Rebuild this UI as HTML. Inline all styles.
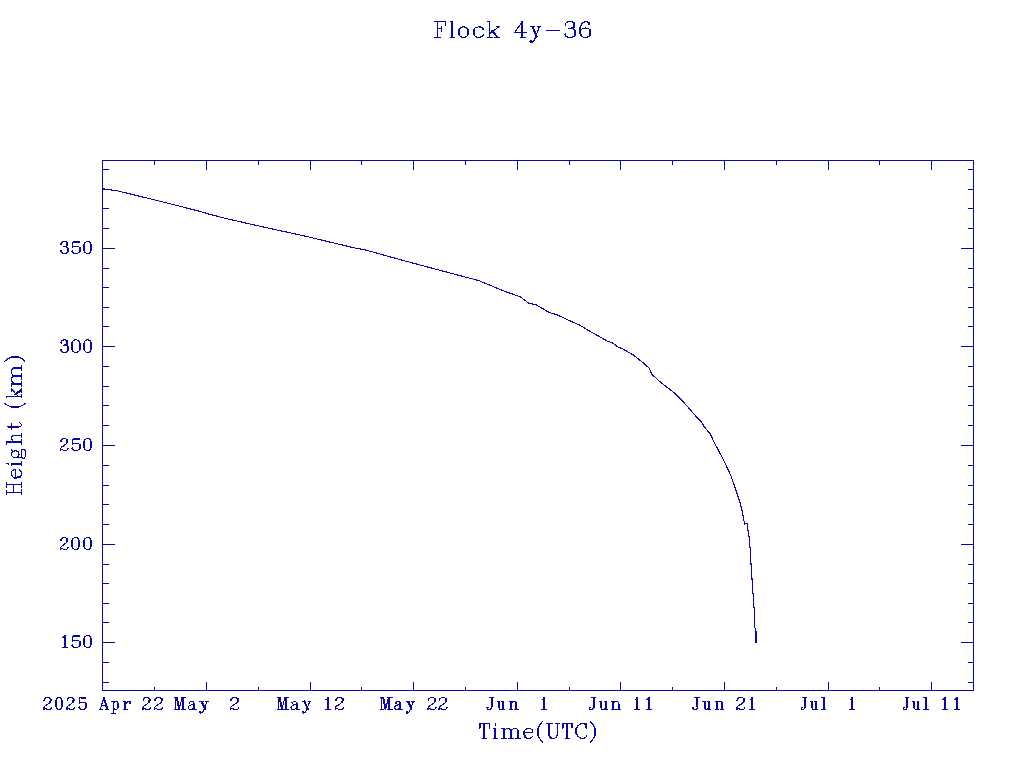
<!DOCTYPE html>
<html><head><meta charset="utf-8"><style>
html,body{margin:0;padding:0;background:#fff;width:1024px;height:768px;overflow:hidden}
svg{display:block}
.tx path{vector-effect:non-scaling-stroke}
.tx path.k{stroke-width:2.0px}
</style></head><body>
<svg width="1024" height="768" viewBox="0 0 1024 768">
<rect width="1024" height="768" fill="#fff"/>
<g shape-rendering="crispEdges" fill="none" stroke="#0808a8" stroke-width="1">
<path d="M102.5 160.5H973.5V690.5H102.5Z"/>
<path d="M103 682.5h6M973 682.5h-5M103 662.5h6M973 662.5h-5M103 642.5h12M973 642.5h-12M103 622.5h6M973 622.5h-5M103 603.5h6M973 603.5h-5M103 583.5h6M973 583.5h-5M103 564.5h6M973 564.5h-5M103 544.5h12M973 544.5h-12M103 524.5h6M973 524.5h-5M103 504.5h6M973 504.5h-5M103 485.5h6M973 485.5h-5M103 465.5h6M973 465.5h-5M103 445.5h12M973 445.5h-12M103 425.5h6M973 425.5h-5M103 405.5h6M973 405.5h-5M103 386.5h6M973 386.5h-5M103 366.5h6M973 366.5h-5M103 346.5h12M973 346.5h-12M103 326.5h6M973 326.5h-5M103 307.5h6M973 307.5h-5M103 287.5h6M973 287.5h-5M103 268.5h6M973 268.5h-5M103 248.5h12M973 248.5h-12M103 228.5h6M973 228.5h-5M103 208.5h6M973 208.5h-5M103 189.5h6M973 189.5h-5M103 169.5h6M973 169.5h-5M154.5 690v-3M154.5 161v4M206.5 690v-8M206.5 161v9M258.5 690v-3M258.5 161v4M310.5 690v-8M310.5 161v9M361.5 690v-3M361.5 161v4M413.5 690v-8M413.5 161v9M465.5 690v-3M465.5 161v4M517.5 690v-8M517.5 161v9M569.5 690v-3M569.5 161v4M620.5 690v-8M620.5 161v9M672.5 690v-3M672.5 161v4M724.5 690v-8M724.5 161v9M776.5 690v-3M776.5 161v4M828.5 690v-8M828.5 161v9M879.5 690v-3M879.5 161v4M931.5 690v-8M931.5 161v9"/>
</g>
<g fill="none" stroke="#0808a8" shape-rendering="crispEdges"><path d="M102 188.7 L116.25 190.6 L150 198.75 L180 206.25 L205 212.75 L207.5 213.75 L228 219 L265.5 227.5 L303 235.6 L356 248.3 L363.5 249.4 L406 261.25 L443.5 271.25 L470 278.3 L478.3 280.4 L487.5 284.2 L503.3 290.8 L520 296.7 L529.2 303.5 L535.8 304.6 L549.2 312.5 L556.7 314.6 L570 320.8 L580 325.3 L588.3 330.4 L596.7 335 L607.5 341.25 L612.5 342.9 L617.5 346.7 L623.3 349.2 L633.3 355 L643.3 362.9 L649.2 368.3 L651.7 374.2 L660 381.7 L674.2 392.9 L685 403.75 L693.3 413.3 L701.7 422.5 L704.3 426.8 L710.2 433.9 L715.2 444.3 L721 455.2 L726 465.2 L731 476 L737 493.3 L740.3 503.3 L742.8 514.2 L744.6 524 L746.5 523.5 L747.5 524 L747.8 529 L749.2 537.5 L750.2 550 L751.25 567.7 L752.3 583.3 L753.3 597.9 L754.4 612.5 L754.6 626 L755.6 631 L756 642" fill="none" stroke-width="1.1"/><rect x="755" y="631" width="2" height="12" fill="#0808a8" stroke="none"/></g>
<g class="tx" shape-rendering="crispEdges" fill="none" stroke="#0808a8" stroke-width="1.15" stroke-linecap="round" stroke-linejoin="round">
<path transform="matrix(0.7233 0 0 0.7548 434.57 21.57)" d="M3.5 0V21 M0 0H15V5.5 M0 21H7.5 M3.5 9.5H10 M10 6V13"/><path transform="matrix(0.6417 0 0 0.7548 450.57 21.57)" d="M0 0H3 M0 21H6"/><path class="k" transform="matrix(0.6417 0 0 0.7548 450.57 21.57)" d="M3 0V21"/><path transform="matrix(0.7577 0 0 0.7548 458.57 21.57)" d="M6.5 7C2.9 7 0 10.1 0 14C0 17.9 2.9 21 6.5 21C10.1 21 13 17.9 13 14C13 10.1 10.1 7 6.5 7Z"/><path class="k" transform="matrix(0.7577 0 0 0.7548 458.57 21.57)" d="M0.6 11.5C0.4 13.5 0.5 15.5 1.1 17.5 M12.4 16.5C12.6 14.5 12.5 12.5 11.9 10.5"/><path transform="matrix(0.7577 0 0 0.7548 473.57 21.57)" d="M11.3 10.6C12.3 10.6 13 10.2 13 9.6C12.2 7.9 10 7 7 7C2.9 7 0 10.1 0 14C0 17.9 2.9 21 7 21C9.6 21 11.6 19.8 13 17.6 M11.3 9.2V10.6"/><path class="k" transform="matrix(0.7577 0 0 0.7548 473.57 21.57)" d="M0.6 11.5C0.4 13.5 0.5 15.5 1.1 17.5"/><path transform="matrix(0.7406 0 0 0.7548 487.57 21.57)" d="M2.6 0V21 M0 0H3 M0 21H6.5 M15 7L2.6 16.5 M11.5 7H16 M10 21H16"/><path class="k" transform="matrix(0.7406 0 0 0.7548 487.57 21.57)" d="M6 12L13.5 21"/><path transform="matrix(0.7406 0 0 0.7548 514.58 21.57)" d="M10.5 0L0 14.5H16 M8.5 21H14.5"/><path class="k" transform="matrix(0.7406 0 0 0.7548 514.58 21.57)" d="M10.5 0V21"/><path transform="matrix(0.7344 0 0 0.7548 529.18 21.57)" d="M1.5 7H7 M11.5 7H16 M13.8 7L7.5 23.5C6.5 26 5 27.5 3 27.5C1.8 27.5 1 26.8 1 26C1 25.4 1.5 25 2 25C2.5 25 3 25.4 3 26"/><path class="k" transform="matrix(0.7344 0 0 0.7548 529.18 21.57)" d="M4.5 7L10.5 20"/><path transform="matrix(0.7457 0 0 0.7548 546.38 21.57)" d="M0 11.5H17.5"/><path transform="matrix(0.7893 0 0 0.7548 564.38 21.57)" d="M1 4.5C1.5 1.5 4 0 7.5 0C11 0 13 1.8 13 4.5C13 7 11 8.8 7 8.8H5.5 M7 8.8C11.5 8.8 14 11.5 14 15C14 18.8 11.5 21 7 21C3.5 21 1 19.5 0.5 17"/><path class="k" transform="matrix(0.7893 0 0 0.7548 564.38 21.57)" d="M1.5 4.5L1.6 4.6 M13.4 12.5C13.7 13.5 13.7 16.5 13.4 17.5 M1.3 16.6L1.4 16.7 M12.3 2C12.6 3 12.6 5.5 12.2 6.8"/><path transform="matrix(0.7167 0 0 0.7548 579.88 21.57)" d="M13.8 3.2C12.8 1 10.8 0 8.5 0C4 0 0 4.5 0 12C0 18 3 21 7.5 21C12 21 15 18.5 15 14.5C15 10.5 12 8.5 8 8.5C4.5 8.5 1.5 10.5 0.5 13"/><path class="k" transform="matrix(0.7167 0 0 0.7548 579.88 21.57)" d="M13 3.4L13.1 3.5 M0.6 7.5C0.3 10.5 0.3 15.5 1.3 18.5 M14.4 11.5C14.7 13 14.7 16 14.4 17.5"/>
<path transform="matrix(0.6888 0 0 0.7071 479.57 723.58)" d="M0 0H14.3 M0 0V6.3 M14.3 0V6.3 M4.5 21H9.8"/><path class="k" transform="matrix(0.6888 0 0 0.7071 479.57 723.58)" d="M7.1 0V21 M0.5 0V4.5"/><path transform="matrix(0.5923 0 0 0.7071 493.57 723.58)" d="M0 7H3.2 M0 21H6.5 M2.6 3.4L3.6 0.4"/><path class="k" transform="matrix(0.5923 0 0 0.7071 493.57 723.58)" d="M3.2 7V21"/><path transform="matrix(0.7190 0 0 0.7071 501.77 723.58)" d="M0 7H3.4 M0 21H6.3 M3.4 10.5C4.4 8.3 6 7 8.2 7C10.5 7 12.8 8.2 12.8 10.5 M12.8 10.5C13.8 8.3 15.5 7 17.7 7C20 7 22.8 8.2 22.8 10.5 M9.2 21H16.2 M19.3 21H25.8"/><path class="k" transform="matrix(0.7190 0 0 0.7071 501.77 723.58)" d="M3.4 7V21 M12.8 10.5V21 M22.8 10.5V21"/><path transform="matrix(0.6756 0 0 0.7071 523.98 723.58)" d="M0.6 12.5H13.1C13.1 10.5 12.6 9 11.6 8.1C10.6 7.3 9 7 7 7C3 7 0 10 0 14C0 18 3 21 7 21C9.5 21 11.5 20 13.1 18"/><path class="k" transform="matrix(0.6756 0 0 0.7071 523.98 723.58)" d="M0.6 11.3C0.4 14.5 0.7 17.5 2.1 19.5"/><path transform="matrix(0.6169 0 0 0.7071 537.58 723.58)" d="M7.7 -2.6C2.5 2 0 7 0 11.75C0 16.5 2.5 21.5 7.7 26.1"/><path class="k" transform="matrix(0.6169 0 0 0.7071 537.58 723.58)" d="M0.6 7C0.3 10 0.3 13.5 0.6 16.5"/><path transform="matrix(0.6989 0 0 0.7071 546.88 723.58)" d="M0 0H7.5 M12.3 0H17.6 M2.9 14C2.9 18.5 4.8 21 9 21C12.8 21 15 18.5 15 14V0"/><path class="k" transform="matrix(0.6989 0 0 0.7071 546.88 723.58)" d="M2.9 0V14C2.9 17 4.3 19.5 6.5 20.5"/><path transform="matrix(0.6608 0 0 0.7071 562.58 723.58)" d="M0 0H14.3 M0 0V6.3 M14.3 0V6.3 M4.5 21H9.8"/><path class="k" transform="matrix(0.6608 0 0 0.7071 562.58 723.58)" d="M7.1 0V21 M0.5 0V4.5"/><path transform="matrix(0.6903 0 0 0.7071 575.98 723.58)" d="M15.5 0V6.5 M15.5 3.2C14.5 1 12.5 0 10 0C4.5 0 0 4.5 0 10.5C0 16.5 4.5 21 10 21C12.5 21 14.5 20 15.5 17.5"/><path class="k" transform="matrix(0.6903 0 0 0.7071 575.98 723.58)" d="M0.7 6C0.4 9 0.4 12 0.7 15 M15 0.5V5"/><path transform="matrix(0.6299 0 0 0.7071 590.58 723.58)" d="M0 -2.6C5.2 2 7.7 7 7.7 11.75C7.7 16.5 5.2 21.5 0 26.1"/><path class="k" transform="matrix(0.6299 0 0 0.7071 590.58 723.58)" d="M7.1 7C7.4 10 7.4 13.5 7.1 16.5"/>
<g transform="translate(0 768) rotate(-90)"><path transform="matrix(0.6912 0 0 0.7024 273.47 6.67)" d="M3 0V21 M14 0V21 M0 0H6.5 M10.5 0H17 M0 21H6.5 M10.5 21H17 M3 10H14"/><path transform="matrix(0.6374 0 0 0.7024 290.07 6.67)" d="M0.6 12.5H13.1C13.1 10.5 12.6 9 11.6 8.1C10.6 7.3 9 7 7 7C3 7 0 10 0 14C0 18 3 21 7 21C9.5 21 11.5 20 13.1 18"/><path class="k" transform="matrix(0.6374 0 0 0.7024 290.07 6.67)" d="M0.6 11.3C0.4 14.5 0.7 17.5 2.1 19.5"/><path transform="matrix(0.6077 0 0 0.7024 302.27 6.67)" d="M0 7H3.2 M0 21H6.5 M2.6 3.4L3.6 0.4"/><path class="k" transform="matrix(0.6077 0 0 0.7024 302.27 6.67)" d="M3.2 7V21"/><path transform="matrix(0.6754 0 0 0.7024 309.68 6.67)" d="M6 7C3 7 1 9 1 12.3C1 15.6 3 17.6 6 17.6C9 17.6 11 15.6 11 12.3C11 9 9 7 6 7Z M10 8.5C10.8 7.5 12 7 13.4 7.2 M2.5 16.5C1 17.5 0.5 18.5 0.5 19.3C0.5 20.2 1.5 20.7 3 20.7H10C12.5 20.7 13.4 21.9 13.4 23.7C13.4 25.7 11 26.8 7 26.8C3 26.8 0 25.7 0 23.7C0 22.2 1.5 21.2 3 20.7"/><path transform="matrix(0.6871 0 0 0.7024 323.88 6.67)" d="M0 0H3.5 M3.5 10.5C4.5 8.5 7 7 9 7C11.5 7 12.5 8.5 12.5 11V21 M0 21H7 M9.5 21H15.5"/><path class="k" transform="matrix(0.6871 0 0 0.7024 323.88 6.67)" d="M3.5 0V21"/><path transform="matrix(0.6520 0 0 0.7024 338.77 6.67)" d="M4 17.5C4 20 4.8 21 6.5 21C8 21 9.2 20 10.2 18.5 M0 7H9"/><path class="k" transform="matrix(0.6520 0 0 0.7024 338.77 6.67)" d="M4 2V17.5"/><path transform="matrix(0.5000 0 0 0.7024 360.57 6.67)" d="M7.7 -2.6C2.5 2 0 7 0 11.75C0 16.5 2.5 21.5 7.7 26.1"/><path class="k" transform="matrix(0.5000 0 0 0.7024 360.57 6.67)" d="M0.6 7C0.3 10 0.3 13.5 0.6 16.5"/><path transform="matrix(0.5906 0 0 0.7024 370.07 6.67)" d="M2.6 0V21 M0 0H3 M0 21H6.5 M15 7L2.6 16.5 M11.5 7H16 M10 21H16"/><path class="k" transform="matrix(0.5906 0 0 0.7024 370.07 6.67)" d="M6 12L13.5 21"/><path transform="matrix(0.7965 0 0 0.7024 381.68 6.67)" d="M0 7H3.4 M0 21H6.3 M3.4 10.5C4.4 8.3 6 7 8.2 7C10.5 7 12.8 8.2 12.8 10.5 M12.8 10.5C13.8 8.3 15.5 7 17.7 7C20 7 22.8 8.2 22.8 10.5 M9.2 21H16.2 M19.3 21H25.8"/><path class="k" transform="matrix(0.7965 0 0 0.7024 381.68 6.67)" d="M3.4 7V21 M12.8 10.5V21 M22.8 10.5V21"/><path transform="matrix(0.6039 0 0 0.7024 406.77 6.67)" d="M0 -2.6C5.2 2 7.7 7 7.7 11.75C7.7 16.5 5.2 21.5 0 26.1"/><path class="k" transform="matrix(0.6039 0 0 0.7024 406.77 6.67)" d="M7.1 7C7.4 10 7.4 13.5 7.1 16.5"/></g>
<path transform="matrix(0.5464 0 0 0.5643 60.38 241.57)" d="M1 4.5C1.5 1.5 4 0 7.5 0C11 0 13 1.8 13 4.5C13 7 11 8.8 7 8.8H5.5 M7 8.8C11.5 8.8 14 11.5 14 15C14 18.8 11.5 21 7 21C3.5 21 1 19.5 0.5 17"/><path class="k" transform="matrix(0.5464 0 0 0.5643 60.38 241.57)" d="M1.5 4.5L1.6 4.6 M13.4 12.5C13.7 13.5 13.7 16.5 13.4 17.5 M1.3 16.6L1.4 16.7 M12.3 2C12.6 3 12.6 5.5 12.2 6.8"/><path transform="matrix(0.6179 0 0 0.5643 71.58 241.57)" d="M2.5 0L1.5 10C3 8.5 4.8 8 7 8C11 8 14 10.5 14 14.5C14 18.5 11 21 7 21C3.5 21 1 19.5 0.5 17 M2.5 0H12.5 M1 16.6C1 15.9 2 15.9 2 16.6"/><path class="k" transform="matrix(0.6179 0 0 0.5643 71.58 241.57)" d="M13.4 11C13.7 13 13.7 16 13.4 17.5 M6 0.6H12.5"/><path transform="matrix(0.5464 0 0 0.5643 83.78 241.57)" d="M7 0C3 0 0 4 0 10.5C0 17 3 21 7 21C11 21 14 17 14 10.5C14 4 11 0 7 0Z"/><path class="k" transform="matrix(0.5464 0 0 0.5643 83.78 241.57)" d="M0.6 6C0.3 9 0.3 13 0.6 15.5 M13.4 6C13.7 9 13.7 13 13.4 15.5"/>
<path transform="matrix(0.5464 0 0 0.6024 60.58 339.77)" d="M1 4.5C1.5 1.5 4 0 7.5 0C11 0 13 1.8 13 4.5C13 7 11 8.8 7 8.8H5.5 M7 8.8C11.5 8.8 14 11.5 14 15C14 18.8 11.5 21 7 21C3.5 21 1 19.5 0.5 17"/><path class="k" transform="matrix(0.5464 0 0 0.6024 60.58 339.77)" d="M1.5 4.5L1.6 4.6 M13.4 12.5C13.7 13.5 13.7 16.5 13.4 17.5 M1.3 16.6L1.4 16.7 M12.3 2C12.6 3 12.6 5.5 12.2 6.8"/><path transform="matrix(0.6107 0 0 0.6024 71.58 339.77)" d="M7 0C3 0 0 4 0 10.5C0 17 3 21 7 21C11 21 14 17 14 10.5C14 4 11 0 7 0Z"/><path class="k" transform="matrix(0.6107 0 0 0.6024 71.58 339.77)" d="M0.6 6C0.3 9 0.3 13 0.6 15.5 M13.4 6C13.7 9 13.7 13 13.4 15.5"/><path transform="matrix(0.5607 0 0 0.6024 83.78 339.77)" d="M7 0C3 0 0 4 0 10.5C0 17 3 21 7 21C11 21 14 17 14 10.5C14 4 11 0 7 0Z"/><path class="k" transform="matrix(0.5607 0 0 0.6024 83.78 339.77)" d="M0.6 6C0.3 9 0.3 13 0.6 15.5 M13.4 6C13.7 9 13.7 13 13.4 15.5"/>
<path transform="matrix(0.5464 0 0 0.5643 60.38 438.57)" d="M0.8 5.2C0.8 4.3 1.3 3.9 2 4.3 M0.8 4.8C1.3 1.8 4 0 7 0C10.5 0 13 2 13 5C13 7.8 11 9.6 7.5 11.8L2.5 15C1 16.2 0.2 18 0 21C1.5 19.8 3 19.6 5 20.3C8 21.3 11 21.3 13 20L14 17.5"/><path class="k" transform="matrix(0.5464 0 0 0.5643 60.38 438.57)" d="M12.4 2C12.7 3 12.7 5.5 12.1 7"/><path transform="matrix(0.6179 0 0 0.5643 71.58 438.57)" d="M2.5 0L1.5 10C3 8.5 4.8 8 7 8C11 8 14 10.5 14 14.5C14 18.5 11 21 7 21C3.5 21 1 19.5 0.5 17 M2.5 0H12.5 M1 16.6C1 15.9 2 15.9 2 16.6"/><path class="k" transform="matrix(0.6179 0 0 0.5643 71.58 438.57)" d="M13.4 11C13.7 13 13.7 16 13.4 17.5 M6 0.6H12.5"/><path transform="matrix(0.5464 0 0 0.5643 83.78 438.57)" d="M7 0C3 0 0 4 0 10.5C0 17 3 21 7 21C11 21 14 17 14 10.5C14 4 11 0 7 0Z"/><path class="k" transform="matrix(0.5464 0 0 0.5643 83.78 438.57)" d="M0.6 6C0.3 9 0.3 13 0.6 15.5 M13.4 6C13.7 9 13.7 13 13.4 15.5"/>
<path transform="matrix(0.5464 0 0 0.5643 60.38 537.58)" d="M0.8 5.2C0.8 4.3 1.3 3.9 2 4.3 M0.8 4.8C1.3 1.8 4 0 7 0C10.5 0 13 2 13 5C13 7.8 11 9.6 7.5 11.8L2.5 15C1 16.2 0.2 18 0 21C1.5 19.8 3 19.6 5 20.3C8 21.3 11 21.3 13 20L14 17.5"/><path class="k" transform="matrix(0.5464 0 0 0.5643 60.38 537.58)" d="M12.4 2C12.7 3 12.7 5.5 12.1 7"/><path transform="matrix(0.5464 0 0 0.5643 71.78 537.58)" d="M7 0C3 0 0 4 0 10.5C0 17 3 21 7 21C11 21 14 17 14 10.5C14 4 11 0 7 0Z"/><path class="k" transform="matrix(0.5464 0 0 0.5643 71.78 537.58)" d="M0.6 6C0.3 9 0.3 13 0.6 15.5 M13.4 6C13.7 9 13.7 13 13.4 15.5"/><path transform="matrix(0.5464 0 0 0.5643 83.78 537.58)" d="M7 0C3 0 0 4 0 10.5C0 17 3 21 7 21C11 21 14 17 14 10.5C14 4 11 0 7 0Z"/><path class="k" transform="matrix(0.5464 0 0 0.5643 83.78 537.58)" d="M0.6 6C0.3 9 0.3 13 0.6 15.5 M13.4 6C13.7 9 13.7 13 13.4 15.5"/>
<path transform="matrix(0.4895 0 0 0.5643 62.58 635.58)" d="M0.8 3.2C2.6 2.8 4.4 1.6 5 0 M0 21H9.5"/><path class="k" transform="matrix(0.4895 0 0 0.5643 62.58 635.58)" d="M5 0V21"/><path transform="matrix(0.6179 0 0 0.5643 71.58 635.58)" d="M2.5 0L1.5 10C3 8.5 4.8 8 7 8C11 8 14 10.5 14 14.5C14 18.5 11 21 7 21C3.5 21 1 19.5 0.5 17 M2.5 0H12.5 M1 16.6C1 15.9 2 15.9 2 16.6"/><path class="k" transform="matrix(0.6179 0 0 0.5643 71.58 635.58)" d="M13.4 11C13.7 13 13.7 16 13.4 17.5 M6 0.6H12.5"/><path transform="matrix(0.5464 0 0 0.5643 83.78 635.58)" d="M7 0C3 0 0 4 0 10.5C0 17 3 21 7 21C11 21 14 17 14 10.5C14 4 11 0 7 0Z"/><path class="k" transform="matrix(0.5464 0 0 0.5643 83.78 635.58)" d="M0.6 6C0.3 9 0.3 13 0.6 15.5 M13.4 6C13.7 9 13.7 13 13.4 15.5"/>
<path transform="matrix(0.5607 0 0 0.5643 43.58 697.58)" d="M0.8 5.2C0.8 4.3 1.3 3.9 2 4.3 M0.8 4.8C1.3 1.8 4 0 7 0C10.5 0 13 2 13 5C13 7.8 11 9.6 7.5 11.8L2.5 15C1 16.2 0.2 18 0 21C1.5 19.8 3 19.6 5 20.3C8 21.3 11 21.3 13 20L14 17.5"/><path class="k" transform="matrix(0.5607 0 0 0.5643 43.58 697.58)" d="M12.4 2C12.7 3 12.7 5.5 12.1 7"/><path transform="matrix(0.4750 0 0 0.5643 55.48 697.58)" d="M7 0C3 0 0 4 0 10.5C0 17 3 21 7 21C11 21 14 17 14 10.5C14 4 11 0 7 0Z"/><path class="k" transform="matrix(0.4750 0 0 0.5643 55.48 697.58)" d="M0.6 6C0.3 9 0.3 13 0.6 15.5 M13.4 6C13.7 9 13.7 13 13.4 15.5"/><path transform="matrix(0.5464 0 0 0.5643 66.67 697.58)" d="M0.8 5.2C0.8 4.3 1.3 3.9 2 4.3 M0.8 4.8C1.3 1.8 4 0 7 0C10.5 0 13 2 13 5C13 7.8 11 9.6 7.5 11.8L2.5 15C1 16.2 0.2 18 0 21C1.5 19.8 3 19.6 5 20.3C8 21.3 11 21.3 13 20L14 17.5"/><path class="k" transform="matrix(0.5464 0 0 0.5643 66.67 697.58)" d="M12.4 2C12.7 3 12.7 5.5 12.1 7"/><path transform="matrix(0.5607 0 0 0.5643 78.58 697.58)" d="M2.5 0L1.5 10C3 8.5 4.8 8 7 8C11 8 14 10.5 14 14.5C14 18.5 11 21 7 21C3.5 21 1 19.5 0.5 17 M2.5 0H12.5 M1 16.6C1 15.9 2 15.9 2 16.6"/><path class="k" transform="matrix(0.5607 0 0 0.5643 78.58 697.58)" d="M13.4 11C13.7 13 13.7 16 13.4 17.5 M6 0.6H12.5"/><path transform="matrix(0.5485 0 0 0.5643 99.38 697.58)" d="M8.2 0.6L1.5 21 M4 14H12.5 M0 21H5 M11.5 21H16.5"/><path class="k" transform="matrix(0.5485 0 0 0.5643 99.38 697.58)" d="M8.5 0.8L14.5 21"/><path transform="matrix(0.5346 0 0 0.5643 111.67 697.58)" d="M3 7V28.5 M0 7H3 M0 28.5H7 M3 10C4 8 5.5 7 7.5 7C10.5 7 13 9.5 13 14C13 18.5 10.5 21 7.5 21C5.5 21 4 20 3 18"/><path class="k" transform="matrix(0.5346 0 0 0.5643 111.67 697.58)" d="M12.4 11C12.6 13 12.6 15.5 12.4 17"/><path transform="matrix(0.5792 0 0 0.5643 123.67 697.58)" d="M0 7H3 M0 21H6.5 M3 12C4 9 6 7 8.5 7C10.5 7 12 7.8 12 9C12 9.8 11.5 10.3 11 10.3C10.3 10.3 10 9.8 10 9.3"/><path class="k" transform="matrix(0.5792 0 0 0.5643 123.67 697.58)" d="M3 7V21"/><path transform="matrix(0.5464 0 0 0.5643 142.67 697.58)" d="M0.8 5.2C0.8 4.3 1.3 3.9 2 4.3 M0.8 4.8C1.3 1.8 4 0 7 0C10.5 0 13 2 13 5C13 7.8 11 9.6 7.5 11.8L2.5 15C1 16.2 0.2 18 0 21C1.5 19.8 3 19.6 5 20.3C8 21.3 11 21.3 13 20L14 17.5"/><path class="k" transform="matrix(0.5464 0 0 0.5643 142.67 697.58)" d="M12.4 2C12.7 3 12.7 5.5 12.1 7"/><path transform="matrix(0.5964 0 0 0.5643 154.27 697.58)" d="M0.8 5.2C0.8 4.3 1.3 3.9 2 4.3 M0.8 4.8C1.3 1.8 4 0 7 0C10.5 0 13 2 13 5C13 7.8 11 9.6 7.5 11.8L2.5 15C1 16.2 0.2 18 0 21C1.5 19.8 3 19.6 5 20.3C8 21.3 11 21.3 13 20L14 17.5"/><path class="k" transform="matrix(0.5964 0 0 0.5643 154.27 697.58)" d="M12.4 2C12.7 3 12.7 5.5 12.1 7"/><path transform="matrix(0.5625 0 0 0.5643 174.38 697.58)" d="M2 0V21 M0 0H4.5 M13.6 0.5L8.4 21 M12.5 0H20 M0 21H5 M12 21H20"/><path class="k" transform="matrix(0.5625 0 0 0.5643 174.38 697.58)" d="M4.3 0.3L8.4 20.5 M15.3 0V21"/><path transform="matrix(0.5433 0 0 0.5643 188.18 697.58)" d="M2 9.3C3 7.8 4.6 7 7 7C9.6 7 10.5 8.5 10.5 11 M10.5 18.5C10.5 20.3 11.8 21 13 21H15 M10.5 11.6C9 12.6 6 12.6 3.6 13.6C1 14.6 0 15.9 0 17.6C0 19.8 1.8 21 4.5 21C7 21 9.5 19.8 10.5 17.6"/><path class="k" transform="matrix(0.5433 0 0 0.5643 188.18 697.58)" d="M10.5 11V20 M2.4 9.4L2.5 9.5"/><path transform="matrix(0.5594 0 0 0.5643 199.18 697.58)" d="M1.5 7H7 M11.5 7H16 M13.8 7L7.5 23.5C6.5 26 5 27.5 3 27.5C1.8 27.5 1 26.8 1 26C1 25.4 1.5 25 2 25C2.5 25 3 25.4 3 26"/><path class="k" transform="matrix(0.5594 0 0 0.5643 199.18 697.58)" d="M4.5 7L10.5 20"/><path transform="matrix(0.6107 0 0 0.5643 230.27 697.58)" d="M0.8 5.2C0.8 4.3 1.3 3.9 2 4.3 M0.8 4.8C1.3 1.8 4 0 7 0C10.5 0 13 2 13 5C13 7.8 11 9.6 7.5 11.8L2.5 15C1 16.2 0.2 18 0 21C1.5 19.8 3 19.6 5 20.3C8 21.3 11 21.3 13 20L14 17.5"/><path class="k" transform="matrix(0.6107 0 0 0.5643 230.27 697.58)" d="M12.4 2C12.7 3 12.7 5.5 12.1 7"/><path transform="matrix(0.5625 0 0 0.5643 277.18 697.58)" d="M2 0V21 M0 0H4.5 M13.6 0.5L8.4 21 M12.5 0H20 M0 21H5 M12 21H20"/><path class="k" transform="matrix(0.5625 0 0 0.5643 277.18 697.58)" d="M4.3 0.3L8.4 20.5 M15.3 0V21"/><path transform="matrix(0.5433 0 0 0.5643 290.98 697.58)" d="M2 9.3C3 7.8 4.6 7 7 7C9.6 7 10.5 8.5 10.5 11 M10.5 18.5C10.5 20.3 11.8 21 13 21H15 M10.5 11.6C9 12.6 6 12.6 3.6 13.6C1 14.6 0 15.9 0 17.6C0 19.8 1.8 21 4.5 21C7 21 9.5 19.8 10.5 17.6"/><path class="k" transform="matrix(0.5433 0 0 0.5643 290.98 697.58)" d="M10.5 11V20 M2.4 9.4L2.5 9.5"/><path transform="matrix(0.5594 0 0 0.5643 301.98 697.58)" d="M1.5 7H7 M11.5 7H16 M13.8 7L7.5 23.5C6.5 26 5 27.5 3 27.5C1.8 27.5 1 26.8 1 26C1 25.4 1.5 25 2 25C2.5 25 3 25.4 3 26"/><path class="k" transform="matrix(0.5594 0 0 0.5643 301.98 697.58)" d="M4.5 7L10.5 20"/><path transform="matrix(0.5526 0 0 0.5643 325.57 697.58)" d="M0.8 3.2C2.6 2.8 4.4 1.6 5 0 M0 21H9.5"/><path class="k" transform="matrix(0.5526 0 0 0.5643 325.57 697.58)" d="M5 0V21"/><path transform="matrix(0.6036 0 0 0.5643 335.07 697.58)" d="M0.8 5.2C0.8 4.3 1.3 3.9 2 4.3 M0.8 4.8C1.3 1.8 4 0 7 0C10.5 0 13 2 13 5C13 7.8 11 9.6 7.5 11.8L2.5 15C1 16.2 0.2 18 0 21C1.5 19.8 3 19.6 5 20.3C8 21.3 11 21.3 13 20L14 17.5"/><path class="k" transform="matrix(0.6036 0 0 0.5643 335.07 697.58)" d="M12.4 2C12.7 3 12.7 5.5 12.1 7"/><path transform="matrix(0.5625 0 0 0.5643 380.77 697.58)" d="M2 0V21 M0 0H4.5 M13.6 0.5L8.4 21 M12.5 0H20 M0 21H5 M12 21H20"/><path class="k" transform="matrix(0.5625 0 0 0.5643 380.77 697.58)" d="M4.3 0.3L8.4 20.5 M15.3 0V21"/><path transform="matrix(0.5433 0 0 0.5643 394.57 697.58)" d="M2 9.3C3 7.8 4.6 7 7 7C9.6 7 10.5 8.5 10.5 11 M10.5 18.5C10.5 20.3 11.8 21 13 21H15 M10.5 11.6C9 12.6 6 12.6 3.6 13.6C1 14.6 0 15.9 0 17.6C0 19.8 1.8 21 4.5 21C7 21 9.5 19.8 10.5 17.6"/><path class="k" transform="matrix(0.5433 0 0 0.5643 394.57 697.58)" d="M10.5 11V20 M2.4 9.4L2.5 9.5"/><path transform="matrix(0.5594 0 0 0.5643 405.57 697.58)" d="M1.5 7H7 M11.5 7H16 M13.8 7L7.5 23.5C6.5 26 5 27.5 3 27.5C1.8 27.5 1 26.8 1 26C1 25.4 1.5 25 2 25C2.5 25 3 25.4 3 26"/><path class="k" transform="matrix(0.5594 0 0 0.5643 405.57 697.58)" d="M4.5 7L10.5 20"/><path transform="matrix(0.6036 0 0 0.5643 427.67 697.58)" d="M0.8 5.2C0.8 4.3 1.3 3.9 2 4.3 M0.8 4.8C1.3 1.8 4 0 7 0C10.5 0 13 2 13 5C13 7.8 11 9.6 7.5 11.8L2.5 15C1 16.2 0.2 18 0 21C1.5 19.8 3 19.6 5 20.3C8 21.3 11 21.3 13 20L14 17.5"/><path class="k" transform="matrix(0.6036 0 0 0.5643 427.67 697.58)" d="M12.4 2C12.7 3 12.7 5.5 12.1 7"/><path transform="matrix(0.6036 0 0 0.5643 438.67 697.58)" d="M0.8 5.2C0.8 4.3 1.3 3.9 2 4.3 M0.8 4.8C1.3 1.8 4 0 7 0C10.5 0 13 2 13 5C13 7.8 11 9.6 7.5 11.8L2.5 15C1 16.2 0.2 18 0 21C1.5 19.8 3 19.6 5 20.3C8 21.3 11 21.3 13 20L14 17.5"/><path class="k" transform="matrix(0.6036 0 0 0.5643 438.67 697.58)" d="M12.4 2C12.7 3 12.7 5.5 12.1 7"/><path transform="matrix(0.5189 0 0 0.5643 486.37 697.58)" d="M5.5 0H13.2 M10 16.5C10 19.5 8 21 5 21C2.5 21 1 19.8 1 18.5C1 17.6 1.6 17 2.3 17C3 17 3.5 17.5 3.5 18.2"/><path class="k" transform="matrix(0.5189 0 0 0.5643 486.37 697.58)" d="M10 0V16.5"/><path transform="matrix(0.5345 0 0 0.5643 497.17 697.58)" d="M0 7H3.5 M3.5 17C3.5 19.5 4.3 21 6.5 21C8.5 21 10 20 11.3 18 M9 7H11.5 M11.3 21H14.5"/><path class="k" transform="matrix(0.5345 0 0 0.5643 497.17 697.58)" d="M3.5 7V17 M11.5 7V21"/><path transform="matrix(0.5510 0 0 0.5643 509.37 697.58)" d="M0 7H3 M3 10.5C4 8.5 6.5 7 8.5 7C11 7 12.7 8.5 12.7 11 M0 21H6.5 M9.2 21H15.7"/><path class="k" transform="matrix(0.5510 0 0 0.5643 509.37 697.58)" d="M3 7V21 M12.7 11V21"/><path transform="matrix(0.4579 0 0 0.5643 541.88 697.58)" d="M0.8 3.2C2.6 2.8 4.4 1.6 5 0 M0 21H9.5"/><path class="k" transform="matrix(0.4579 0 0 0.5643 541.88 697.58)" d="M5 0V21"/><path transform="matrix(0.5189 0 0 0.5643 588.58 697.58)" d="M5.5 0H13.2 M10 16.5C10 19.5 8 21 5 21C2.5 21 1 19.8 1 18.5C1 17.6 1.6 17 2.3 17C3 17 3.5 17.5 3.5 18.2"/><path class="k" transform="matrix(0.5189 0 0 0.5643 588.58 697.58)" d="M10 0V16.5"/><path transform="matrix(0.5345 0 0 0.5643 599.38 697.58)" d="M0 7H3.5 M3.5 17C3.5 19.5 4.3 21 6.5 21C8.5 21 10 20 11.3 18 M9 7H11.5 M11.3 21H14.5"/><path class="k" transform="matrix(0.5345 0 0 0.5643 599.38 697.58)" d="M3.5 7V17 M11.5 7V21"/><path transform="matrix(0.5510 0 0 0.5643 611.58 697.58)" d="M0 7H3 M3 10.5C4 8.5 6.5 7 8.5 7C11 7 12.7 8.5 12.7 11 M0 21H6.5 M9.2 21H15.7"/><path class="k" transform="matrix(0.5510 0 0 0.5643 611.58 697.58)" d="M3 7V21 M12.7 11V21"/><path transform="matrix(0.5000 0 0 0.5643 634.88 697.58)" d="M0.8 3.2C2.6 2.8 4.4 1.6 5 0 M0 21H9.5"/><path class="k" transform="matrix(0.5000 0 0 0.5643 634.88 697.58)" d="M5 0V21"/><path transform="matrix(0.5421 0 0 0.5643 646.18 697.58)" d="M0.8 3.2C2.6 2.8 4.4 1.6 5 0 M0 21H9.5"/><path class="k" transform="matrix(0.5421 0 0 0.5643 646.18 697.58)" d="M5 0V21"/><path transform="matrix(0.5189 0 0 0.5643 692.17 697.58)" d="M5.5 0H13.2 M10 16.5C10 19.5 8 21 5 21C2.5 21 1 19.8 1 18.5C1 17.6 1.6 17 2.3 17C3 17 3.5 17.5 3.5 18.2"/><path class="k" transform="matrix(0.5189 0 0 0.5643 692.17 697.58)" d="M10 0V16.5"/><path transform="matrix(0.5345 0 0 0.5643 702.97 697.58)" d="M0 7H3.5 M3.5 17C3.5 19.5 4.3 21 6.5 21C8.5 21 10 20 11.3 18 M9 7H11.5 M11.3 21H14.5"/><path class="k" transform="matrix(0.5345 0 0 0.5643 702.97 697.58)" d="M3.5 7V17 M11.5 7V21"/><path transform="matrix(0.5510 0 0 0.5643 715.17 697.58)" d="M0 7H3 M3 10.5C4 8.5 6.5 7 8.5 7C11 7 12.7 8.5 12.7 11 M0 21H6.5 M9.2 21H15.7"/><path class="k" transform="matrix(0.5510 0 0 0.5643 715.17 697.58)" d="M3 7V21 M12.7 11V21"/><path transform="matrix(0.5964 0 0 0.5643 736.57 697.58)" d="M0.8 5.2C0.8 4.3 1.3 3.9 2 4.3 M0.8 4.8C1.3 1.8 4 0 7 0C10.5 0 13 2 13 5C13 7.8 11 9.6 7.5 11.8L2.5 15C1 16.2 0.2 18 0 21C1.5 19.8 3 19.6 5 20.3C8 21.3 11 21.3 13 20L14 17.5"/><path class="k" transform="matrix(0.5964 0 0 0.5643 736.57 697.58)" d="M12.4 2C12.7 3 12.7 5.5 12.1 7"/><path transform="matrix(0.5421 0 0 0.5643 749.77 697.58)" d="M0.8 3.2C2.6 2.8 4.4 1.6 5 0 M0 21H9.5"/><path class="k" transform="matrix(0.5421 0 0 0.5643 749.77 697.58)" d="M5 0V21"/><path transform="matrix(0.4280 0 0 0.5643 800.57 697.58)" d="M5.5 0H13.2 M10 16.5C10 19.5 8 21 5 21C2.5 21 1 19.8 1 18.5C1 17.6 1.6 17 2.3 17C3 17 3.5 17.5 3.5 18.2"/><path class="k" transform="matrix(0.4280 0 0 0.5643 800.57 697.58)" d="M10 0V16.5"/><path transform="matrix(0.5069 0 0 0.5643 810.37 697.58)" d="M0 7H3.5 M3.5 17C3.5 19.5 4.3 21 6.5 21C8.5 21 10 20 11.3 18 M9 7H11.5 M11.3 21H14.5"/><path class="k" transform="matrix(0.5069 0 0 0.5643 810.37 697.58)" d="M3.5 7V17 M11.5 7V21"/><path transform="matrix(0.7083 0 0 0.5643 821.67 697.58)" d="M0 0H3 M0 21H6"/><path class="k" transform="matrix(0.7083 0 0 0.5643 821.67 697.58)" d="M3 0V21"/><path transform="matrix(0.4474 0 0 0.5643 849.97 697.58)" d="M0.8 3.2C2.6 2.8 4.4 1.6 5 0 M0 21H9.5"/><path class="k" transform="matrix(0.4474 0 0 0.5643 849.97 697.58)" d="M5 0V21"/><path transform="matrix(0.4280 0 0 0.5643 902.77 697.58)" d="M5.5 0H13.2 M10 16.5C10 19.5 8 21 5 21C2.5 21 1 19.8 1 18.5C1 17.6 1.6 17 2.3 17C3 17 3.5 17.5 3.5 18.2"/><path class="k" transform="matrix(0.4280 0 0 0.5643 902.77 697.58)" d="M10 0V16.5"/><path transform="matrix(0.5069 0 0 0.5643 912.57 697.58)" d="M0 7H3.5 M3.5 17C3.5 19.5 4.3 21 6.5 21C8.5 21 10 20 11.3 18 M9 7H11.5 M11.3 21H14.5"/><path class="k" transform="matrix(0.5069 0 0 0.5643 912.57 697.58)" d="M3.5 7V17 M11.5 7V21"/><path transform="matrix(0.7083 0 0 0.5643 923.88 697.58)" d="M0 0H3 M0 21H6"/><path class="k" transform="matrix(0.7083 0 0 0.5643 923.88 697.58)" d="M3 0V21"/><path transform="matrix(0.5105 0 0 0.5643 942.57 697.58)" d="M0.8 3.2C2.6 2.8 4.4 1.6 5 0 M0 21H9.5"/><path class="k" transform="matrix(0.5105 0 0 0.5643 942.57 697.58)" d="M5 0V21"/><path transform="matrix(0.5421 0 0 0.5643 954.27 697.58)" d="M0.8 3.2C2.6 2.8 4.4 1.6 5 0 M0 21H9.5"/><path class="k" transform="matrix(0.5421 0 0 0.5643 954.27 697.58)" d="M5 0V21"/>
</g>
</svg>
</body></html>
